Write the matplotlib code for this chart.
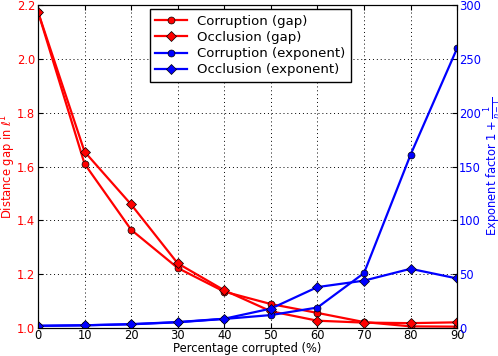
import numpy as np
import matplotlib.pyplot as plt

pct = [0, 10, 20, 30, 40, 50, 60, 70, 80, 90]

corr_gap = [2.175, 1.61, 1.365, 1.223, 1.135, 1.089, 1.056, 1.022, 1.006, 1.005]
occl_gap = [2.175, 1.655, 1.459, 1.24, 1.14, 1.062, 1.027, 1.02, 1.018, 1.021]

corr_exp = [2, 2.5, 3.4, 5.3, 8.4, 12, 19, 51, 161, 260]
occl_exp = [2, 2.5, 3.6, 5.5, 8.6, 18, 38, 44, 55, 46]

plt.rcParams['font.size'] = 8.3
plt.rcParams['xtick.direction'] = 'in'
plt.rcParams['ytick.direction'] = 'in'

fig = plt.figure(figsize=(4.98, 3.56), dpi=100)
ax1 = fig.add_axes([0.0763, 0.0787, 0.8417, 0.907])
ax2 = ax1.twinx()

l1, = ax1.plot(pct, corr_gap, 'r-o', lw=1.6, ms=5, mec='k', mew=0.5, label='Corruption (gap)')
l2, = ax1.plot(pct, occl_gap, 'r-D', lw=1.6, ms=5, mec='k', mew=0.5, label='Occlusion (gap)')
l3, = ax2.plot(pct, corr_exp, 'b-o', lw=1.6, ms=5, mec='k', mew=0.5, label='Corruption (exponent)')
l4, = ax2.plot(pct, occl_exp, 'b-D', lw=1.6, ms=5, mec='k', mew=0.5, label='Occlusion (exponent)')

ax1.set_xlim(0, 90)
ax1.set_ylim(1.0, 2.2)
ax2.set_ylim(0, 300)
ax1.set_xticks(pct)
ax1.set_yticks(np.arange(1.0, 2.21, 0.2))
ax2.set_yticks(np.arange(0, 301, 50))

ax1.grid(True, ls=(0, (1, 3)), color='k', lw=0.7)
ax1.tick_params(axis='x', top=True, pad=1)
ax1.tick_params(axis='y', colors='k', labelcolor='r', pad=2)
ax2.tick_params(axis='y', colors='k', labelcolor='b', pad=1.5)

ax1.set_xlabel('Percentage corrupted (%)', labelpad=0)
ax1.set_ylabel(r'Distance gap in $\ell^1$', color='r')
ax2.set_ylabel(r'Exponent factor $1+\frac{1}{\eta-1}$', color='b')
ax1.yaxis.set_label_coords(-0.047, 0.5)
ax2.yaxis.set_label_coords(1.06, 0.5)

leg = ax1.legend([l1, l2, l3, l4], [l.get_label() for l in [l1, l2, l3, l4]],
                 loc='upper left', bbox_to_anchor=(0.267, 0.987), fontsize=9.5,
                 fancybox=False, edgecolor='k', framealpha=1, borderaxespad=0,
                 handlelength=2.4, labelspacing=0.25)
leg.get_frame().set_linewidth(1.0)

fig.savefig('out.png', dpi=100)
